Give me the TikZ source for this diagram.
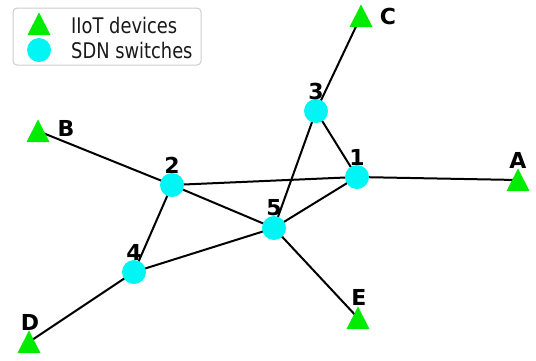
\documentclass[tikz,border=0pt]{standalone}
\usepackage{fontspec}
\setmainfont{DejaVu Sans}
\newfontfamily\legfont[FakeStretch=0.83]{DejaVu Sans}
\usetikzlibrary{calc}
\definecolor{swcyan}{RGB}{0,245,245}
\definecolor{devgreen}{RGB}{0,235,0}
\tikzset{
  edge/.style={draw=black, line width=2pt},
  switchnode/.style={circle, fill=swcyan, minimum size=24pt, inner sep=0pt},
  lbl/.style={font=\fontsize{22}{22}\selectfont\bfseries, inner sep=0pt, text=black},
  legtext/.style={font=\legfont\fontsize{21.5}{21.5}\selectfont, inner sep=0pt, anchor=west, text=black!90},
  legbox/.style={draw=black!20, line width=1pt, rounded corners=4pt, fill=white},
}
\newcommand{\devtri}[1]{\fill[devgreen, shift={(#1)}] (0,-11.5) -- (-11.5,11) -- (11.5,11) -- cycle;}
\begin{document}
\begin{tikzpicture}[x=1pt, y=-1pt]
\useasboundingbox (0,0) rectangle (536,360);
% positions
\coordinate (p1) at (357,177);
\coordinate (p2) at (172,185);
\coordinate (p3) at (316,111);
\coordinate (p4) at (134,272);
\coordinate (p5) at (274,228);
\coordinate (pA) at (518,180);
\coordinate (pB) at (38,131);
\coordinate (pC) at (361,16);
\coordinate (pD) at (29,342);
\coordinate (pE) at (358,318);
% edges
\draw[edge] (pC) -- (p3);
\draw[edge] (p3) -- (p1);
\draw[edge] (p3) -- (p5);
\draw[edge] (p1) -- (pA);
\draw[edge] (p1) -- (p2);
\draw[edge] (p1) -- (p5);
\draw[edge] (pB) -- (p2);
\draw[edge] (p2) -- (p5);
\draw[edge] (p2) -- (p4);
\draw[edge] (p4) -- (p5);
\draw[edge] (p4) -- (pD);
\draw[edge] (p5) -- (pE);
% switches
\node[switchnode] (s1) at (p1) {};
\node[switchnode] (s2) at (p2) {};
\node[switchnode] (s3) at (p3) {};
\node[switchnode] (s4) at (p4) {};
\node[switchnode] (s5) at (p5) {};
% devices
\devtri{pA}
\devtri{pB}
\devtri{pC}
\devtri{pD}
\devtri{pE}
% labels
\node[lbl] (l1) at ($(p1)+(0,-20)$) {1};
\node[lbl] (l2) at ($(p2)+(0,-20)$) {2};
\node[lbl] (l3) at ($(p3)+(0,-20)$) {3};
\node[lbl] (l4) at ($(p4)+(0,-20)$) {4};
\node[lbl] (l5) at ($(p5)+(0,-20)$) {5};
\node[lbl] (lA) at ($(pA)+(0,-20)$) {A};
\node[lbl] (lB) at ($(pB)+(28,-3)$) {B};
\node[lbl] (lC) at ($(pC)+(27,0)$) {C};
\node[lbl] (lD) at ($(pD)+(1,-20)$) {D};
\node[lbl] (lE) at ($(pE)+(1,-21)$) {E};
% legend
\draw[legbox] (13,8) rectangle (201,65);
\coordinate (legT) at (39,24);
\devtri{legT}
\node[switchnode] (legC) at (39,50) {};
\node[legtext] (legt1) at (71,25) {IIoT devices};
\node[legtext] (legt2) at (71,50) {SDN switches};
\end{tikzpicture}
\end{document}
